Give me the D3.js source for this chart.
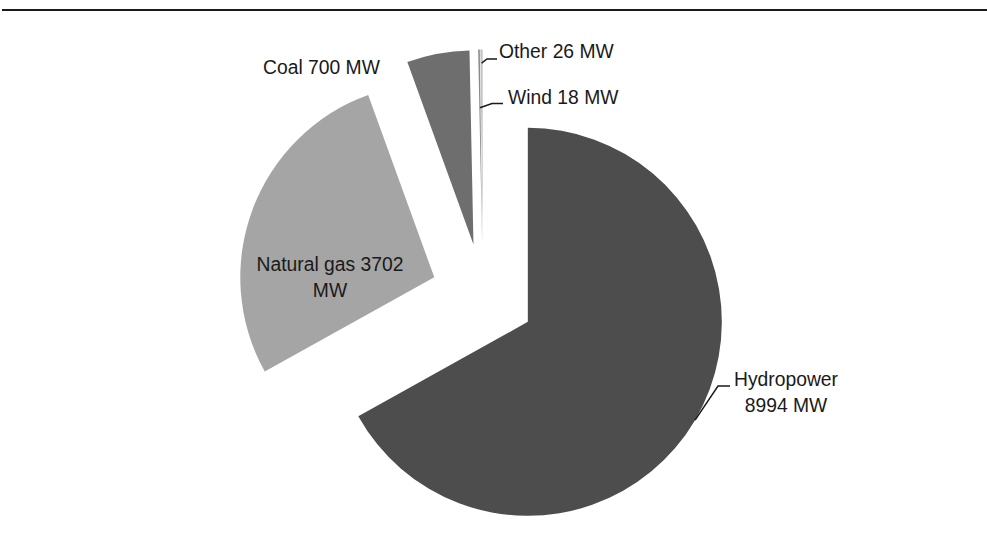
<!DOCTYPE html>
<html>
<head>
<meta charset="utf-8">
<script src="https://cdn.jsdelivr.net/npm/d3@7"></script>
<style>
	body { margin: 0; background: #fff; }
	text { font-family: "Liberation Sans", Arial, sans-serif; fill: #1a1a1a; }
</style>
</head>
<body>
<div id="chart"></div>
<script>
// capacity by source, MW
let sources = ["Hydropower", "Natural gas", "Coal", "Wind", "Other"];
let capacity = [8994, 3702, 700, 18, 26];
let labelLines = [["Hydropower", "8994 MW"], ["Natural gas 3702", "MW"], ["Coal 700 MW"], ["Wind 18 MW"], ["Other 26 MW"]];

let width = 987;
let height = 535;
let center = { x: 483, y: 295.5 };
let radius = 194;
let explode = 52;

let colors = d3.scaleOrdinal()
	.domain(sources)
	.range(["#4d4d4d", "#a5a5a5", "#6e6e6e", "#8a8a8a", "#c4c4c4"]);

// label placement (text anchor point, leader start radius, elbow offsets)
let labelLayout = {
	"Hydropower": { x: 786, y: 386, anchor: "middle", leader: { r: 1.0, elbow: [-68, 0], end: [-56, 0] } },
	"Natural gas": { x: 330, y: 270.5, anchor: "middle" },
	"Coal": { x: 263, y: 73.5, anchor: "start" },
	"Wind": { x: 508, y: 103.5, anchor: "start", leader: { r: 0.7, elbow: [-16, 0], end: [-5, 0] } },
	"Other": { x: 499, y: 57.5, anchor: "start", leader: { r: 0.93, elbow: [-12, 1.5], end: [-2, 1.5] } }
};

let svg = d3.select("#chart")
	.append("svg")
	.attr("width", width)
	.attr("height", height);

// top rule
svg.append("line")
	.attr("x1", 2).attr("x2", width)
	.attr("y1", 10).attr("y2", 10)
	.attr("stroke", "#1a1a1a")
	.attr("stroke-width", 2.2);

let pie = d3.pie().sort(null).value(d => d.value);
let arcs = pie(sources.map((s, i) => ({ name: s, value: capacity[i], lines: labelLines[i] })));

let arc = d3.arc().innerRadius(0).outerRadius(radius);

function offsetOf(d) {
	let a = (d.startAngle + d.endAngle) / 2;
	return [explode * Math.sin(a), -explode * Math.cos(a)];
}

let g = svg.append("g").attr("transform", `translate(${center.x},${center.y})`);

g.selectAll("path")
	.data(arcs)
	.enter()
	.append("path")
	.attr("transform", d => `translate(${offsetOf(d)})`)
	.attr("d", arc)
	.attr("fill", d => colors(d.data.name));

// leaders
arcs.forEach(d => {
	let lay = labelLayout[d.data.name];
	if (!lay.leader) return;
	let a = (d.startAngle + d.endAngle) / 2;
	let off = offsetOf(d);
	let r = radius * lay.leader.r;
	let sx = center.x + off[0] + r * Math.sin(a);
	let sy = center.y + off[1] - r * Math.cos(a);
	let ty = lay.y - 0;
	let pts = [
		[sx, sy],
		[lay.x + lay.leader.elbow[0], ty + lay.leader.elbow[1] - (d.data.name === "Hydropower" ? 0 : 0)],
		[lay.x + lay.leader.end[0], ty + lay.leader.end[1]]
	];
	if (d.data.name !== "Hydropower") {
		pts[1][1] = lay.y + lay.leader.elbow[1];
		pts[2][1] = lay.y + lay.leader.end[1];
	}
	svg.append("path")
		.attr("d", d3.line()(pts))
		.attr("fill", "none")
		.attr("stroke", "#1a1a1a")
		.attr("stroke-width", 1.5);
});

// labels
arcs.forEach(d => {
	let lay = labelLayout[d.data.name];
	let t = svg.append("text")
		.attr("transform", `translate(${lay.x},${lay.y}) scale(0.92,1)`)
		.attr("text-anchor", lay.anchor)
		.style("font-size", "21px");
	d.data.lines.forEach((line, i) => {
		t.append("tspan")
			.attr("x", 0)
			.attr("y", i * 26.5)
			.text(line);
	});
});
</script>
</body>
</html>
